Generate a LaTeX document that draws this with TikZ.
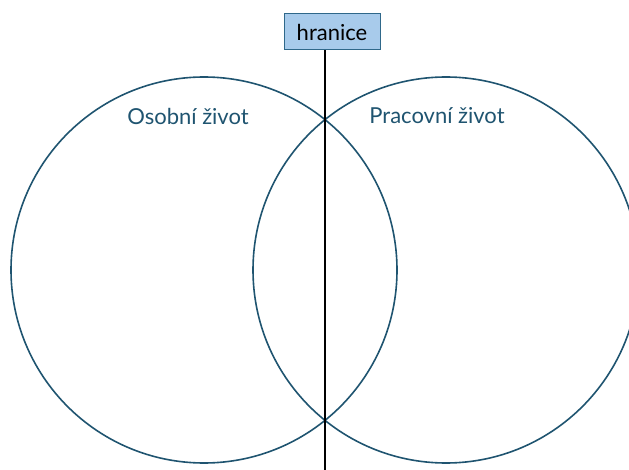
\documentclass[tikz,border=0pt]{standalone}
\usepackage{fontspec}
\setmainfont{Lato}
\usetikzlibrary{positioning}
\definecolor{okruh}{RGB}{31,84,112}
\definecolor{stitek}{RGB}{168,203,235}
\definecolor{ramec}{RGB}{47,104,138}

\begin{document}
\begin{tikzpicture}[x=1pt,y=-1pt,
    kruh/.style={circle,draw=okruh,line width=1.6pt,minimum size=386pt,inner sep=0pt},
    popis/.style={text=okruh,font=\fontsize{22}{26}\selectfont},
    hranbox/.style={draw=ramec,fill=stitek,line width=1pt,minimum width=96pt,minimum height=36pt,inner sep=0pt,font=\fontsize{22}{26}\selectfont}]
    \useasboundingbox (0,0) rectangle (629,470);
    % two circles
    \begin{scope}
        \clip (0,0) rectangle (629,470);
        \node[kruh] (osobni) at (204,270) {};
        \node[kruh] (pracovni) at (446,270) {};
    \end{scope}
    % labels
    \node[popis] (osobniL) at (188,116) {Osobní život};
    \node[popis] (pracovniL) at (437,116) {Pracovní život};
    % boundary
    \node[hranbox] (hranice) at (332,32) {hranice};
    \coordinate (dole) at (325,470);
    \draw[line width=2.6pt] (hranice.south -| dole) -- (dole);
\end{tikzpicture}
\end{document}
